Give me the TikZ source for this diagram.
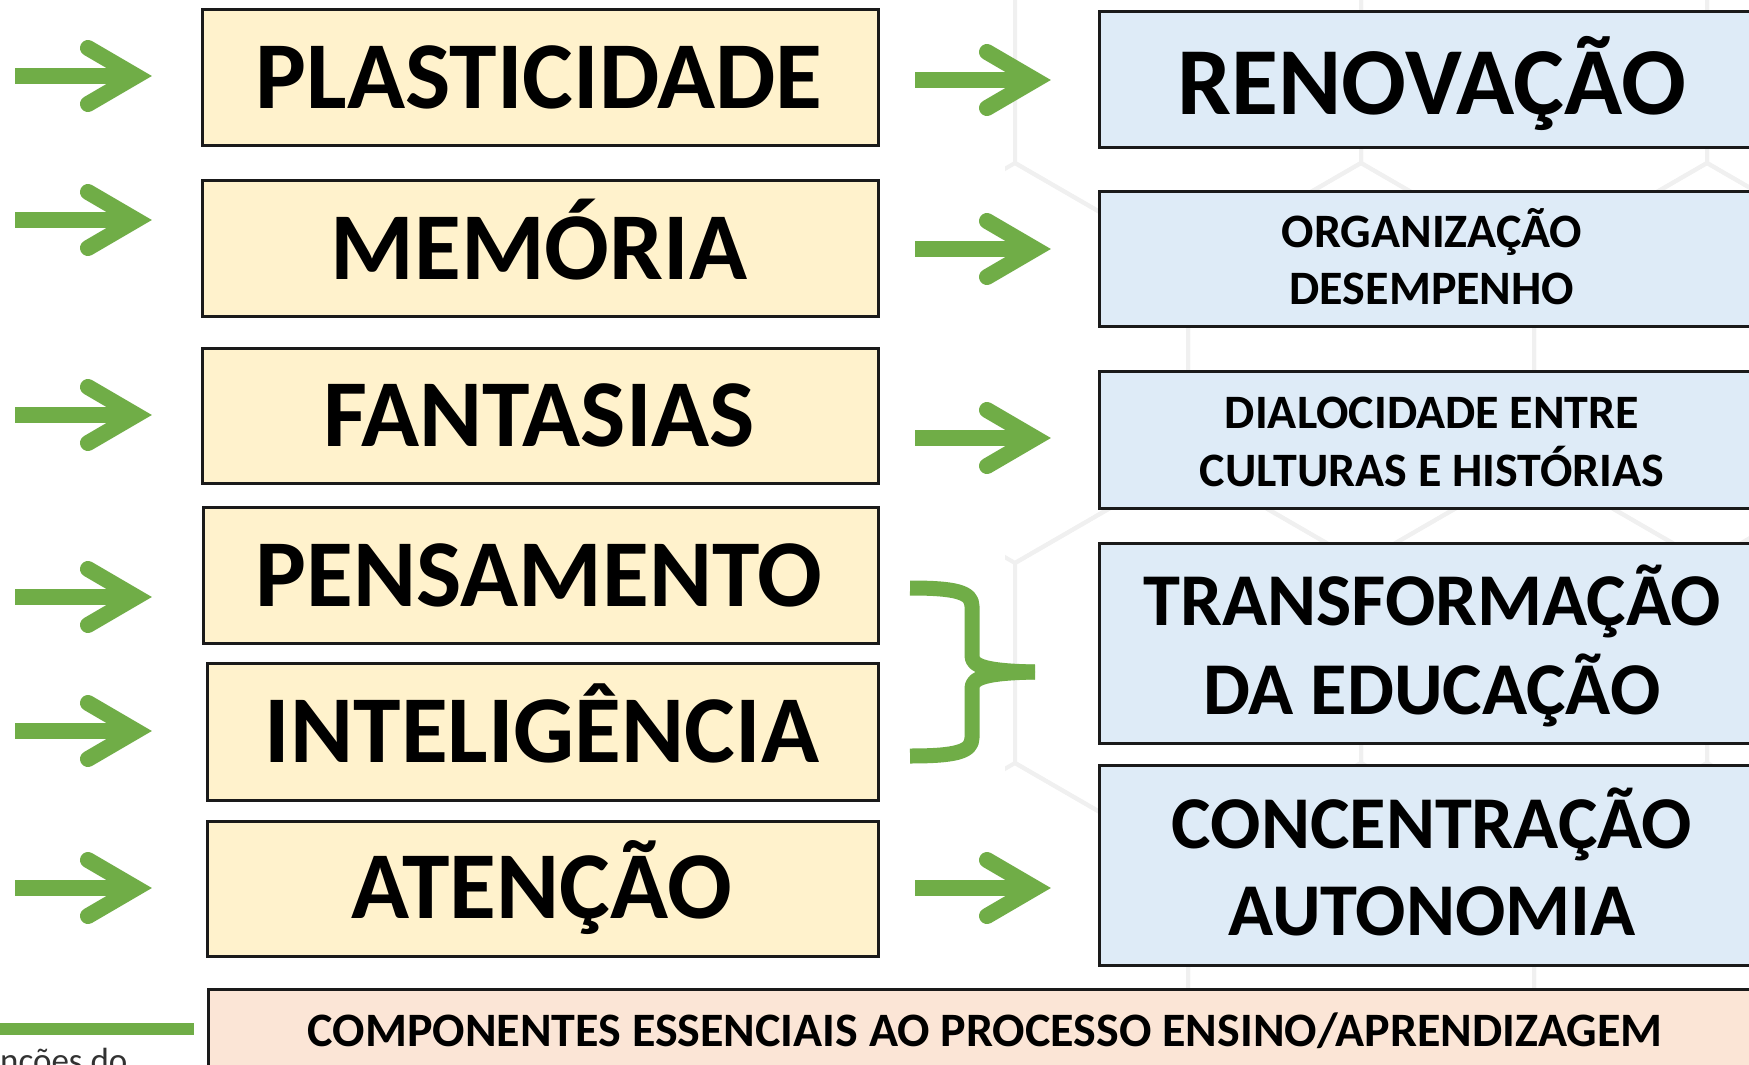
\documentclass[tikz,border=0pt]{standalone}
\usepackage{fontspec}
\setmainfont{Carlito}
\usetikzlibrary{calc}
\definecolor{gcol}{HTML}{70AD47}
\definecolor{yfill}{HTML}{FFF2CC}
\definecolor{bfill}{HTML}{DEEBF7}
\definecolor{pfill}{HTML}{FBE5D6}
\definecolor{bord}{HTML}{1A1A1A}
\definecolor{hexcol}{HTML}{F0F0F0}
\newcommand\fsz[1]{\fontsize{#1}{#1}\selectfont}
\newcommand\garrow[2]{%
  \draw[gshaft] (#1) -- ($(#2)+(-16,0)$);
  \draw[ghead] ($(#2)+(-64,-28)$) -- ($(#2)+(-16,0)$) -- ($(#2)+(-64,28)$);}
\begin{document}
\begin{tikzpicture}[x=1pt,y=-1pt,
  box/.style={draw=bord, line width=3pt, inner sep=0pt},
  ybox/.style={box, fill=yfill},
  bbox/.style={box, fill=bfill},
  pbox/.style={box, fill=pfill},
  lbl/.style={anchor=base, inner sep=0pt, text=black, font=\bfseries},
  gshaft/.style={draw=gcol, line width=16pt, line cap=butt},
  ghead/.style={draw=gcol, line width=16pt, line cap=round, line join=miter},
  bracestyle/.style={draw=gcol, line width=15pt, line cap=butt, line join=round},
  hexline/.style={draw=hexcol, line width=4pt}]
\useasboundingbox (0,0) rectangle (1749,1065);
\clip (0,0) rectangle (1749,1065);
\fill[white] (0,0) rectangle (1749,1065);

% faint hexagon background
\begin{scope}
\clip (1005,0) rectangle (1749,1065);
\foreach \r in {-1,0,1,2,3}{
  \foreach \k in {-1,0,1,2}{
    \pgfmathsetmacro\cx{1361+346*\k+173*mod(abs(\r),2)}
    \pgfmathsetmacro\cy{363+300*\r}
    \draw[hexline] (\cx,\cy-200) -- (\cx+173,\cy-100) -- (\cx+173,\cy+100) -- (\cx,\cy+200) -- (\cx-173,\cy+100) -- (\cx-173,\cy-100) -- cycle;
  }}
\end{scope}

% yellow boxes
\node[ybox, minimum width=676pt, minimum height=135pt] (y1) at (540,77.5) {};
\node[ybox, minimum width=676pt, minimum height=136pt] (y2) at (540,248) {};
\node[ybox, minimum width=676pt, minimum height=135pt] (y3) at (540,415.5) {};
\node[ybox, minimum width=675pt, minimum height=136pt] (y4) at (540.5,575) {};
\node[ybox, minimum width=671pt, minimum height=137pt] (y5) at (542.5,731.5) {};
\node[ybox, minimum width=671pt, minimum height=135pt] (y6) at (542.5,888.5) {};

\node[lbl, font=\bfseries\fsz{95.8}] (ty1) at (539,109) {PLASTICIDADE};
\node[lbl, font=\bfseries\fsz{95.8}] (ty2) at (539,279) {MEMÓRIA};
\node[lbl, font=\bfseries\fsz{95.8}] (ty3) at (539,446) {FANTASIAS};
\node[lbl, font=\bfseries\fsz{95.8}] (ty4) at (539,606) {PENSAMENTO};
\node[lbl, font=\bfseries\fsz{95.8}] (ty5) at (542,762) {INTELIGÊNCIA};
\node[lbl, font=\bfseries\fsz{95.8}] (ty6) at (542,918) {ATENÇÃO};

% blue boxes
\node[bbox, minimum width=664pt, minimum height=135pt] (b1) at (1431,79.5) {};
\node[bbox, minimum width=664pt, minimum height=135pt] (b2) at (1431,258.5) {};
\node[bbox, minimum width=664pt, minimum height=137pt] (b3) at (1431,439.5) {};
\node[bbox, minimum width=664pt, minimum height=200pt] (b4) at (1431,643) {};
\node[bbox, minimum width=664pt, minimum height=200pt] (b5) at (1431,865) {};

\node[lbl, font=\bfseries\fsz{96}] (tb1) at (1432,114) {RENOVAÇÃO};
\node[lbl, font=\bfseries\fsz{48}] (tb2a) at (1432,247.5) {ORGANIZAÇÃO};
\node[lbl, font=\bfseries\fsz{48}] (tb2b) at (1432,304.5) {DESEMPENHO};
\node[lbl, font=\bfseries\fsz{48}] (tb3a) at (1432,428) {DIALOCIDADE ENTRE};
\node[lbl, font=\bfseries\fsz{48}] (tb3b) at (1432,486) {CULTURAS E HISTÓRIAS};
\node[lbl, font=\bfseries\fsz{74.5}] (tb4a) at (1432,625) {TRANSFORMAÇÃO};
\node[lbl, font=\bfseries\fsz{74.5}] (tb4b) at (1432,714) {DA EDUCAÇÃO};
\node[lbl, font=\bfseries\fsz{74.5}] (tb5a) at (1432,848) {CONCENTRAÇÃO};
\node[lbl, font=\bfseries\fsz{74.5}] (tb5b) at (1432,935) {AUTONOMIA};

% bottom box
\node[pbox, minimum width=1554pt, minimum height=100pt] (pb) at (985,1039) {};
\node[lbl, font=\bfseries\fsz{48}] (tpb) at (985,1046) {COMPONENTES ESSENCIAIS AO PROCESSO ENSINO/APRENDIZAGEM};

% bottom-left line and text
\coordinate (gl1) at (0,1029);
\coordinate (gl2) at (194,1029);
\draw[draw=gcol, line width=12pt] (gl1) -- (gl2);
\node[anchor=base west, inner sep=0pt, text={rgb,255:red,50;green,50;blue,50}, font=\fsz{35}] (cut) at (0,1072) {nções do};

% left arrows
\coordinate (ls1) at (15,76);  \coordinate (lt1) at (152,76);
\coordinate (ls2) at (15,220); \coordinate (lt2) at (152,220);
\coordinate (ls3) at (15,415); \coordinate (lt3) at (152,415);
\coordinate (ls4) at (15,597); \coordinate (lt4) at (152,597);
\coordinate (ls5) at (15,731); \coordinate (lt5) at (152,731);
\coordinate (ls6) at (15,888); \coordinate (lt6) at (152,888);
\garrow{ls1}{lt1}
\garrow{ls2}{lt2}
\garrow{ls3}{lt3}
\garrow{ls4}{lt4}
\garrow{ls5}{lt5}
\garrow{ls6}{lt6}

% right arrows
\coordinate (rs1) at (915,80);  \coordinate (rt1) at (1051,80);
\coordinate (rs2) at (915,249); \coordinate (rt2) at (1051,249);
\coordinate (rs3) at (915,438); \coordinate (rt3) at (1051,438);
\coordinate (rs4) at (915,888); \coordinate (rt4) at (1051,888);
\garrow{rs1}{rt1}
\garrow{rs2}{rt2}
\garrow{rs3}{rt3}
\garrow{rs4}{rt4}

% brace
\draw[bracestyle] (910,588) .. controls (955,588) and (972,592) .. (972,606) -- (972,656) .. controls (972,666) and (985,671) .. (1035,672);
\draw[bracestyle] (910,756) .. controls (955,756) and (972,752) .. (972,738) -- (972,688) .. controls (972,678) and (985,673) .. (1035,672);
\end{tikzpicture}
\end{document}
